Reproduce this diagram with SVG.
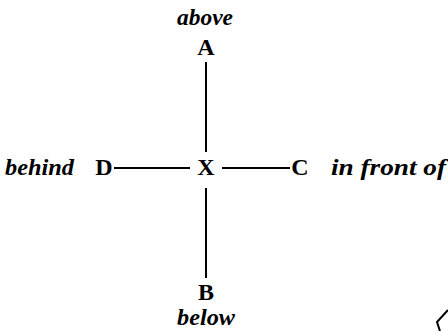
<svg xmlns="http://www.w3.org/2000/svg" width="448" height="331" viewBox="0 0 448 331">
<style>
.lbl{font-family:"Liberation Serif","Times New Roman",serif;font-size:24px;font-weight:bold;fill:#000;text-anchor:middle}
.word{font-family:"Liberation Serif","Times New Roman",serif;font-size:23px;font-style:italic;font-weight:bold;fill:#000}
.edge{stroke:#000;stroke-width:2;fill:none}
</style>
<rect width="448" height="331" fill="#fff"/>
<g id="connectors">
<line class="edge" x1="206" y1="62" x2="206" y2="152"/>
<line class="edge" x1="206" y1="188" x2="206" y2="278"/>
<line class="edge" x1="114" y1="168" x2="190" y2="168"/>
<line class="edge" x1="222" y1="168" x2="290" y2="168"/>
</g>
<g id="node-A">
<text class="word" x="205" y="25" text-anchor="middle" textLength="56" lengthAdjust="spacingAndGlyphs">above</text>
<text class="lbl" x="206" y="55">A</text>
</g>
<g id="node-X">
<text class="lbl" x="206" y="175">X</text>
</g>
<g id="node-D">
<text class="word" x="5" y="175" textLength="69" lengthAdjust="spacingAndGlyphs">behind</text>
<text class="lbl" x="104" y="175">D</text>
</g>
<g id="node-C">
<text class="lbl" x="300" y="175">C</text>
<text class="word" x="331" y="175" textLength="115" lengthAdjust="spacingAndGlyphs">in front of</text>
</g>
<g id="node-B">
<text class="lbl" x="206" y="300">B</text>
<text class="word" x="206" y="325" text-anchor="middle" textLength="58" lengthAdjust="spacingAndGlyphs">below</text>
</g>
<polyline class="edge" points="448,310 437,322 440,331"/>
</svg>
